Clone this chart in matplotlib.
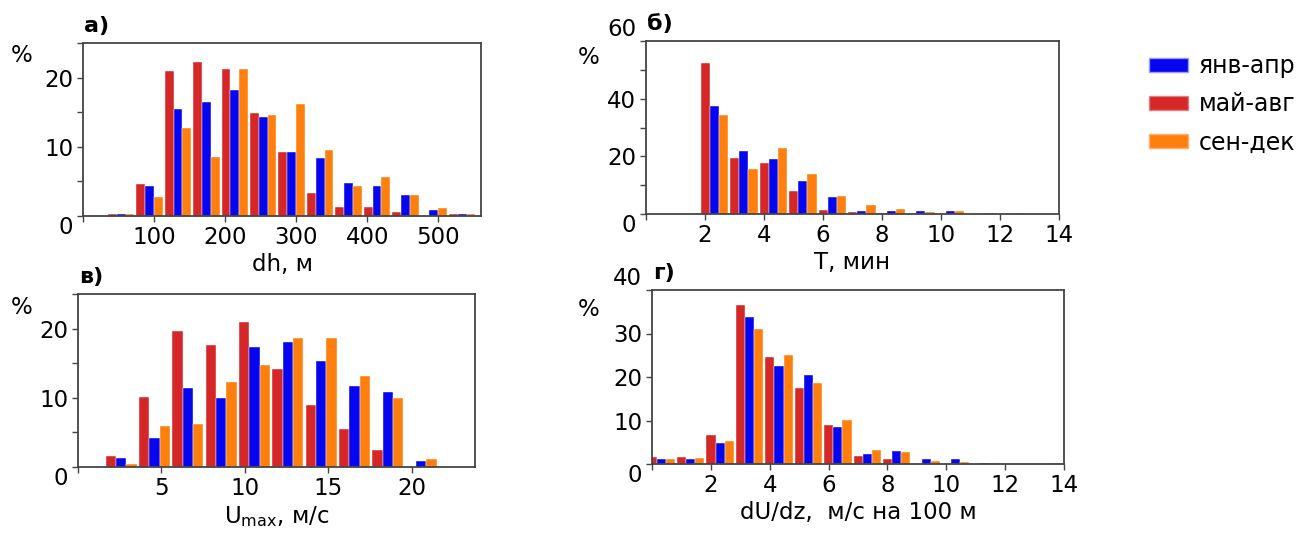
import matplotlib
matplotlib.use('Agg')
import matplotlib.pyplot as plt
from matplotlib.patches import Patch
import numpy as np

# а) dh, m  (bin left edges, %)
dh_bins = [35, 75, 115, 155, 195, 235, 275, 315, 355, 395, 435, 475, 515]
dh_jan = [0.3, 4.4, 15.5, 16.5, 18.2, 14.3, 9.3, 8.4, 4.7, 4.4, 3.0, 0.9, 0.35]
dh_may = [0.3, 4.6, 21.0, 22.2, 21.3, 14.9, 9.2, 3.3, 1.25, 1.25, 0.6, 0.0, 0.35]
dh_sep = [0.3, 2.8, 12.7, 8.5, 21.2, 14.6, 16.2, 9.6, 4.4, 5.6, 3.0, 1.15, 0.35]

# б) T, min
T_bins = [1.85, 2.85, 3.85, 4.85, 5.85, 6.85, 7.85, 8.85, 9.85, 10.85, 11.85]
T_jan = [37.3, 22.0, 19.2, 11.3, 5.9, 1.2, 1.2, 1.2, 1.2, 0.0, 0.0]
T_may = [52.4, 19.5, 17.8, 7.9, 1.4, 0.7, 0.5, 0.0, 0.0, 0.0, 0.0]
T_sep = [34.2, 15.7, 22.9, 13.8, 6.2, 3.2, 1.8, 0.7, 1.1, 0.4, 0.4]

# в) Umax, m/s
U_bins = [1.65, 3.65, 5.65, 7.65, 9.65, 11.65, 13.65, 15.65, 17.65, 19.65]
U_jan = [1.25, 4.25, 11.4, 9.95, 17.4, 18.0, 15.3, 11.7, 10.8, 0.9]
U_may = [1.6, 10.1, 19.6, 17.7, 20.9, 14.1, 8.9, 5.5, 2.5, 0.0]
U_sep = [0.5, 5.9, 6.2, 12.3, 14.7, 18.7, 18.7, 13.2, 9.95, 1.1]

# г) dU/dz, m/s per 100 m
dU_bins = [-0.15, 0.85, 1.85, 2.85, 3.85, 4.85, 5.85, 6.85, 7.85, 8.85,
           9.85, 10.85, 11.85, 12.85]
dU_jan = [1.1, 1.1, 4.8, 33.8, 22.5, 20.4, 8.5, 2.3, 3.0, 1.1, 1.1, 0.2, 0.1, 0.0]
dU_may = [1.6, 1.6, 6.6, 36.6, 24.7, 17.5, 8.9, 1.8, 1.1, 0.0, 0.0, 0.0, 0.1, 0.0]
dU_sep = [1.1, 1.4, 5.3, 31.1, 25.0, 18.6, 10.2, 3.3, 2.8, 0.7, 0.45, 0.2, 0.1, 0.25]

season_labels = ['янв-апр', 'май-авг', 'сен-дек']
c_blue = '#0505f0'
c_red = '#d62728'
c_orange = '#ff7f0e'

W, H = 1304, 537
fig = plt.figure(figsize=(W / 100, H / 100), dpi=100)
fs = 16.5
spine_col = '#444444'


def make_ax(l, t, r, b):
    return fig.add_axes([l / W, 1 - b / H, (r - l) / W, (b - t) / H])


def draw(ax, bins, jan, may, sep, bw, xlim, xticks, ylim, yticks, minor, xlabel, letter):
    bins = np.array(bins, dtype=float)
    w = 0.31 * bw
    ax.bar(bins, may, w, align='edge', color=c_red, edgecolor='white', linewidth=0.3)
    ax.bar(bins + w, jan, w, align='edge', color=c_blue, edgecolor='white', linewidth=0.3)
    ax.bar(bins + 2 * w, sep, w, align='edge', color=c_orange, edgecolor='white', linewidth=0.3)
    ax.set_xlim(*xlim)
    ax.set_ylim(*ylim)
    ax.set_xticks(xticks, [''] + [str(v) for v in xticks[1:]])
    yt = ax.set_yticks(yticks, [str(v) for v in yticks])
    yt[0].label1.set_va('top')
    if yticks[-1] == ylim[1]:
        yt[-1].label1.set_va('bottom')
    ax.set_yticks(minor, minor=True)
    ax.tick_params(which='both', direction='out', length=4, width=1,
                   color=spine_col, labelsize=fs, pad=3)
    for s in ax.spines.values():
        s.set_color(spine_col)
        s.set_linewidth(1.3)
    ax.set_xlabel(xlabel, fontsize=fs, labelpad=3)
    ax.annotate(letter, xy=(0, 1), xycoords='axes fraction', xytext=(1, 5),
                textcoords='offset points', fontsize=16, fontweight='bold',
                ha='left', va='bottom')


ax1 = make_ax(83, 43, 481, 216)
draw(ax1, dh_bins, dh_jan, dh_may, dh_sep, 40, (0, 560),
     [0, 100, 200, 300, 400, 500], (0, 25), [0, 10, 20], [5, 15, 25],
     'dh, м', 'а)')

ax2 = make_ax(646, 41, 1059, 214)
draw(ax2, T_bins, T_jan, T_may, T_sep, 1, (0, 14),
     [0, 2, 4, 6, 8, 10, 12, 14], (0, 60), [0, 20, 40, 60], [10, 30, 50],
     'T, мин', 'б)')

ax3 = make_ax(78, 294, 475, 467)
draw(ax3, U_bins, U_jan, U_may, U_sep, 2, (0, 23.8),
     [0, 5, 10, 15, 20], (0, 25), [0, 10, 20], [5, 15, 25],
     r'U$_{\rm max}$, м/с', 'в)')

ax4 = make_ax(652, 290, 1064, 464)
draw(ax4, dU_bins, dU_jan, dU_may, dU_sep, 1, (0, 14),
     [0, 2, 4, 6, 8, 10, 12, 14], (0, 40), [0, 10, 20, 30, 40], [],
     'dU/dz,  м/с на 100 м', 'г)')

for x, y in [(22, 55), (589, 57), (22, 307), (589, 310)]:
    fig.text(x / W, 1 - y / H, '%', fontsize=fs, ha='center', va='center')

handles = [Patch(facecolor=c_blue, edgecolor='#9999ff'),
           Patch(facecolor=c_red, edgecolor='#e08080'),
           Patch(facecolor=c_orange, edgecolor='#ffb070')]
fig.legend(handles, season_labels, loc='upper left',
           bbox_to_anchor=(1128 / W, 1 - 33 / H), frameon=False,
           fontsize=17, handlelength=1.65, handleheight=0.55,
           labelspacing=0.6, handletextpad=0.45)

fig.savefig('out.png', dpi=100)
